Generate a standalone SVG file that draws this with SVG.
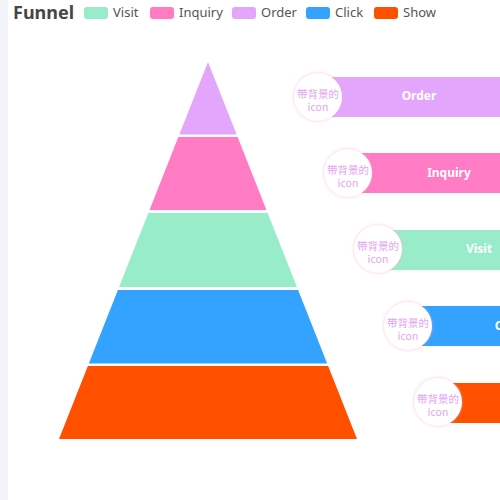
<svg xmlns="http://www.w3.org/2000/svg" width="500" height="500" viewBox="0 0 500 500">
<defs>
<filter id="glow" x="-50%" y="-50%" width="200%" height="200%">
<feGaussianBlur in="SourceAlpha" stdDeviation="2"/>
<feFlood flood-color="#ff9fc8" flood-opacity="0.7"/>
<feComposite operator="in" in2="SourceAlpha"/>
<feGaussianBlur stdDeviation="1.5"/>
<feMerge><feMergeNode/><feMergeNode in="SourceGraphic"/></feMerge>
</filter>
<style>
.lg{font-family:"Noto Sans","Liberation Sans",sans-serif;font-size:13px;fill:#555}
.title{font-family:"Noto Sans","Liberation Sans",sans-serif;font-size:18px;font-weight:bold;fill:#464646}
.bl{font-family:"Noto Sans","Liberation Sans",sans-serif;font-size:12px;font-weight:bold;fill:#fff;text-anchor:middle}
.ic{font-family:"Noto Sans CJK SC","Noto Sans",sans-serif;font-size:10.5px;fill:#e6a3f5;text-anchor:middle}
</style>
</defs>
<rect width="500" height="500" fill="#fff"/>
<rect x="0" y="0" width="8" height="500" fill="#f3f4f9"/>
<g id="legend">
<text class="title" x="13" y="19">Funnel</text>
<rect x="84" y="7" width="24" height="12" rx="3" fill="#99ecca"/><text class="lg" x="113" y="17">Visit</text>
<rect x="150" y="7" width="24" height="12" rx="3" fill="#ff7cc4"/><text class="lg" x="179" y="17">Inquiry</text>
<rect x="232" y="7" width="24" height="12" rx="3" fill="#e3a6fc"/><text class="lg" x="261" y="17">Order</text>
<rect x="306" y="7" width="24" height="12" rx="3" fill="#33a3ff"/><text class="lg" x="335" y="17">Click</text>
<rect x="374" y="7" width="24" height="12" rx="3" fill="#ff5000"/><text class="lg" x="403" y="17">Show</text>
</g>
<g id="funnel">
<polygon id="seg-order" points="208,62 236.65,134.5 179.35,134.5" fill="#e3a6fc"/>
<polygon id="seg-inquiry" points="178.36,137 237.64,137 266.49,210 149.51,210" fill="#ff7cc4"/>
<polygon id="seg-visit" points="148.32,213 267.68,213 296.92,287 119.08,287" fill="#99ecca"/>
<polygon id="seg-click" points="117.89,290 298.11,290 327.16,363.5 88.84,363.5" fill="#33a3ff"/>
<polygon id="seg-show" points="87.86,366 328.14,366 357,439 59,439" fill="#ff5000"/>
</g>
<g id="bar-order">
<rect x="318" y="77" width="190" height="40" fill="#e3a6fc"/>
<text class="bl" x="419" y="100">Order</text>
<circle cx="318" cy="97" r="24" fill="#fff" filter="url(#glow)"/>
<text class="ic" x="318" y="97.5">带背景的</text><text class="ic" x="318" y="110.5">icon</text>
</g>
<g id="bar-inquiry">
<rect x="348" y="153" width="160" height="40" fill="#ff7cc4"/>
<text class="bl" x="449" y="177">Inquiry</text>
<circle cx="348" cy="173" r="24" fill="#fff" filter="url(#glow)"/>
<text class="ic" x="348" y="173.5">带背景的</text><text class="ic" x="348" y="186.5">icon</text>
</g>
<g id="bar-visit">
<rect x="378" y="230" width="130" height="40" fill="#99ecca"/>
<text class="bl" x="479" y="253">Visit</text>
<circle cx="378" cy="249" r="24" fill="#fff" filter="url(#glow)"/>
<text class="ic" x="378" y="249.5">带背景的</text><text class="ic" x="378" y="262.5">icon</text>
</g>
<g id="bar-click">
<rect x="408" y="306" width="100" height="40" fill="#33a3ff"/>
<text class="bl" x="509" y="330">Click</text>
<circle cx="408" cy="326" r="24" fill="#fff" filter="url(#glow)"/>
<text class="ic" x="408" y="326.5">带背景的</text><text class="ic" x="408" y="339.5">icon</text>
</g>
<g id="bar-show">
<rect x="438" y="383" width="70" height="40" fill="#ff5000"/>
<text class="bl" x="539" y="406">Show</text>
<circle cx="438" cy="402" r="24" fill="#fff" filter="url(#glow)"/>
<text class="ic" x="438" y="402.5">带背景的</text><text class="ic" x="438" y="415.5">icon</text>
</g>
</svg>
